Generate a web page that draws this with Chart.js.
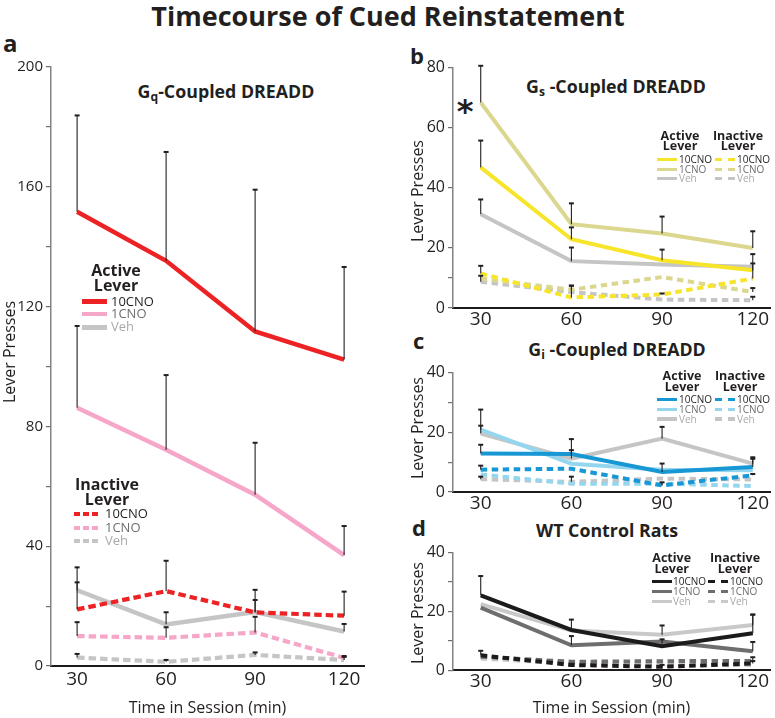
<!DOCTYPE html>
<html><head><meta charset="utf-8">
<script src="https://cdn.jsdelivr.net/npm/chart.js@4.4.1/dist/chart.umd.min.js"></script>
<style>
html,body{margin:0;padding:0;background:#fff;}
body{width:775px;height:718px;position:relative;overflow:hidden;font-family:'Open Sans',sans-serif;color:#231f20;}
.t{position:absolute;line-height:1;white-space:nowrap;}
.c{text-align:center;width:400px;}
.b{font-weight:700;}
.sw{position:absolute;}
canvas{position:absolute;}
sub{font-size:68%;vertical-align:-0.25em;line-height:0;}
</style></head>
<body>
<div class="t c b" style="left:-12px;top:2px;width:800px;font-size:27px;">Timecourse of Cued Reinstatement</div>
<div class="t b" style="left:3px;top:31px;font-size:24px;">a</div>
<div class="t b" style="left:410px;top:44px;font-size:22px;">b</div>
<div class="t b" style="left:413px;top:329px;font-size:22px;">c</div>
<div class="t b" style="left:412px;top:516px;font-size:22px;">d</div>

<div class="t c b" style="left:26px;top:82.5px;font-size:17.8px;">G<sub>q</sub>-Coupled DREADD</div>
<div class="t c b" style="left:416px;top:77.5px;font-size:17.8px;">G<sub>s</sub> -Coupled DREADD</div>
<div class="t c b" style="left:417px;top:340.5px;font-size:17.8px;">G<sub>i</sub> -Coupled DREADD</div>
<div class="t c b" style="left:407px;top:522px;font-size:17.8px;">WT Control Rats</div>

<div class="t" id="asterisk" style="left:445px;top:95px;width:40px;text-align:center;font-family:'DejaVu Sans';font-weight:700;font-size:32px;">*</div>

<canvas id="chartA" width="380" height="673" style="left:0;top:45px;width:380px;height:673px;"></canvas>
<canvas id="chartB" width="385" height="281" style="left:390px;top:55px;width:385px;height:281px;"></canvas>
<canvas id="chartC" width="385" height="160" style="left:390px;top:360px;width:385px;height:160px;"></canvas>
<canvas id="chartD" width="385" height="178" style="left:390px;top:540px;width:385px;height:178px;"></canvas>

<script>
// ---------- data ----------
const timePoints = [30, 60, 90, 120];
const xTickLabels = ['30', '60', '90', '120'];

// Panel a: Gq-coupled DREADD
const gqActive10CNO = [151.7, 135.3, 111.7, 102.3];
const gqActive10CNOErr = [32.3, 36.5, 47.5, 31.1];
const gqActive1CNO = [86.2, 72.2, 57.2, 37.0];
const gqActive1CNOErr = [27.5, 25.1, 17.5, 9.9];
const gqActiveVeh = [25.3, 13.9, 18.0, 11.5];
const gqActiveVehErr = [7.8, 4.2, 4.2, 2.7];
const gqInactive10CNO = [18.9, 25.0, 17.9, 16.8];
const gqInactive10CNOErr = [9.2, 10.3, 7.7, 8.2];
const gqInactive1CNO = [10.0, 9.4, 11.2, 2.7];
const gqInactive1CNOErr = [4.8, 3.7, 5.4, 0.8];
const gqInactiveVeh = [2.8, 1.4, 3.7, 2.0];
const gqInactiveVehErr = [1.4, 0.8, 1.0, 1.2];

// Panel b: Gs-coupled DREADD
const gsActive10CNO = [46.8, 22.9, 15.9, 12.6];
const gsActive10CNOErr = [9.1, 4.1, 3.7, 5.5];
const gsActive1CNO = [68.4, 27.9, 24.8, 20.0];
const gsActive1CNOErr = [12.4, 7.1, 5.8, 5.7];
const gsActiveVeh = [31.2, 15.6, 14.5, 13.7];
const gsActiveVehErr = [5.1, 4.7, 0, 0];
const gsInactive10CNO = [11.5, 3.5, 4.5, 9.8];
const gsInactive10CNOErr = [2.7, 4.1, 0.5, 5.2];
const gsInactive1CNO = [9.8, 6.1, 10.3, 5.3];
const gsInactive1CNOErr = [0, 1.5, 0, 1.5];
const gsInactiveVeh = [8.7, 5.3, 2.8, 2.6];
const gsInactiveVehErr = [2.2, 0, 0, 1.3];

// Panel c: Gi-coupled DREADD
const giActive10CNO = [12.9, 12.7, 6.7, 8.4];
const giActive10CNOErr = [3.1, 5.2, 3.0, 3.4];
const giActive1CNO = [20.9, 9.5, 7.5, 7.3];
const giActive1CNOErr = [6.9, 0, 0, 0];
const giActiveVeh = [19.6, 11.2, 17.9, 9.5];
const giActiveVehErr = [2.8, 3.0, 4.1, 1.8];
const giInactive10CNO = [7.5, 7.8, 2.2, 5.6];
const giInactive10CNOErr = [1.5, 0, 1.2, 0.6];
const giInactive1CNO = [5.9, 2.8, 2.8, 2.0];
const giInactive1CNOErr = [0, 0, 0, 0];
const giInactiveVeh = [4.3, 3.4, 4.5, 4.2];
const giInactiveVehErr = [1.0, 1.9, 0, 0];

// Panel d: WT control rats
const wtActive10CNO = [25.5, 13.7, 8.2, 12.6];
const wtActive10CNOErr = [6.7, 3.7, 2.5, 6.5];
const wtActive1CNO = [21.3, 8.5, 9.8, 6.5];
const wtActive1CNOErr = [0, 3.3, 0, 3.3];
const wtActiveVeh = [22.5, 13.5, 12.1, 15.4];
const wtActiveVehErr = [0, 0, 3.3, 3.7];
const wtInactive10CNO = [5.1, 1.8, 1.2, 2.3];
const wtInactive10CNOErr = [1.7, 0.6, 0.8, 1.0];
const wtInactive1CNO = [4.6, 2.9, 3.1, 3.2];
const wtInactive1CNOErr = [0, 0, 0, 1.4];
const wtInactiveVeh = [4.0, 2.3, 2.0, 1.8];
const wtInactiveVehErr = [0, 0, 0, 0];

// y tick values
const gqYTicks = [0, 20, 40, 60, 80, 100, 120, 140, 160, 180, 200];
const gsYTicks = [0, 10, 20, 40, 60, 80];
const smallYTicks = [0, 10, 20, 30, 40];

const legendLabels = ['10CNO', '1CNO', 'Veh'];

// ---------- styles ----------
const FONT = "'Open Sans', sans-serif";
const TXT = '#231f20';
const legendTextColors = ['#231f20', '#6d6e71', '#a7a9ac'];
const C = {
  red: '#ed2224', pink: '#f6a6c8', gray: '#c5c5c5',
  yellow: '#f7e52a', khaki: '#dbd78f',
  blue: '#1797d4', lblue: '#95d6ef',
  black: '#1d1a1b', dgray: '#6e6e70', lgray: '#c9c9c9'
};

const errorBars = {
  id: 'errorBars',
  afterDatasetsDraw(chart) {
    const { ctx, scales: { x, y } } = chart;
    ctx.save();
    ctx.strokeStyle = '#231f20';
    chart.data.datasets.forEach(ds => {
      if (!ds.errors) return;
      ds.data.forEach((p, i) => {
        const e = ds.errors[i];
        if (!e) return;
        const px = x.getPixelForValue(p.x);
        const y0 = y.getPixelForValue(p.y);
        const y1 = y.getPixelForValue(p.y + e);
        ctx.lineWidth = 1.1;
        ctx.beginPath(); ctx.moveTo(px, y0); ctx.lineTo(px, y1); ctx.stroke();
        ctx.lineWidth = 2;
        ctx.beginPath(); ctx.moveTo(px - 2.5, y1 + 0.5); ctx.lineTo(px + 2.5, y1 + 0.5); ctx.stroke();
      });
    });
    ctx.restore();
  }
};

function ds(vals, errs, color, dash, width) {
  return {
    data: timePoints.map((t, i) => ({ x: t, y: vals[i] })),
    errors: errs,
    borderColor: color,
    backgroundColor: color,
    borderWidth: width,
    borderDash: dash || [],
    pointRadius: 0,
    tension: 0,
    fill: false,
    borderCapStyle: 'butt'
  };
}

function makeChart(id, o) {
  return new Chart(document.getElementById(id), {
    type: 'line',
    data: { datasets: o.datasets },
    options: {
      responsive: false,
      animation: false,
      devicePixelRatio: 1,
      layout: { padding: o.padding },
      plugins: { legend: { display: false }, tooltip: { enabled: false }, title: { display: false } },
      scales: {
        x: {
          type: 'linear', min: o.xMin, max: o.xMax,
          afterBuildTicks: s => { s.ticks = timePoints.map(v => ({ value: v })); },
          afterFit: s => { s.height = o.xHeight; },
          ticks: {
            callback: v => xTickLabels[timePoints.indexOf(v)],
            font: { family: FONT, size: o.xFont }, color: TXT, padding: o.xPad, maxRotation: 0, autoSkip: false
          },
          grid: { display: false, drawTicks: false },
          border: { color: '#1d1a1b', width: 2 },
          title: o.xTitle ? { display: true, text: 'Time in Session (min)', font: { family: FONT, size: 16 }, color: TXT, padding: { top: 0, bottom: o.xTitlePad } } : { display: false }
        },
        y: {
          type: 'linear', min: 0, max: o.yMax,
          afterBuildTicks: s => { s.ticks = o.yTicks.map(v => ({ value: v })); },
          afterFit: s => { s.width = o.yWidth; },
          ticks: {
            callback: v => (v % o.yLabelEvery === 0 ? String(v) : ''),
            font: { family: FONT, size: o.yFont }, color: TXT, padding: 3, autoSkip: false
          },
          grid: { drawOnChartArea: false, drawTicks: true, tickLength: 5, color: '#6d6e71', lineWidth: 1.2 },
          border: { color: '#808285', width: 1.5 }
        }
      }
    },
    plugins: [errorBars]
  });
}

// ---------- charts ----------
const dA = [7.5, 4];
makeChart('chartA', {
  padding: { top: 22, right: 16, left: 0, bottom: 0 },
  xMin: 21.2, xMax: 126.7, xHeight: 52, xFont: 19, xPad: 2, xTitle: true, xTitlePad: 0,
  yMax: 200, yTicks: gqYTicks, yLabelEvery: 40, yWidth: 51, yFont: 15,
  datasets: [
    ds(gqActive10CNO, gqActive10CNOErr, C.red, null, 4.5),
    ds(gqActive1CNO, gqActive1CNOErr, C.pink, null, 4.5),
    ds(gqInactive10CNO, gqInactive10CNOErr, C.red, dA, 4.2),
    ds(gqActiveVeh, gqActiveVehErr, C.gray, null, 4.5),
    ds(gqInactive1CNO, gqInactive1CNOErr, C.pink, dA, 4.2),
    ds(gqInactiveVeh, gqInactiveVehErr, C.gray, dA, 4.2)
  ]
});

const dB = [6.5, 4.5];
makeChart('chartB', {
  padding: { top: 12.7, right: 5, left: 0, bottom: 0 },
  xMin: 20.83, xMax: 125.7, xHeight: 28, xFont: 19, xPad: 0, xTitle: false,
  yMax: 80, yTicks: gsYTicks, yLabelEvery: 20, yWidth: 63, yFont: 16,
  datasets: [
    ds(gsActive10CNO, gsActive10CNOErr, C.yellow, null, 4),
    ds(gsActive1CNO, gsActive1CNOErr, C.khaki, null, 4),
    ds(gsActiveVeh, gsActiveVehErr, C.gray, null, 4),
    ds(gsInactive10CNO, gsInactive10CNOErr, C.yellow, dB, 4),
    ds(gsInactive1CNO, gsInactive1CNOErr, C.khaki, dB, 4),
    ds(gsInactiveVeh, gsInactiveVehErr, C.gray, dB, 4)
  ]
});

makeChart('chartC', {
  padding: { top: 12.7, right: 5, left: 0, bottom: 0 },
  xMin: 20.83, xMax: 125.7, xHeight: 28, xFont: 19, xPad: 0, xTitle: false,
  yMax: 40, yTicks: smallYTicks, yLabelEvery: 20, yWidth: 63, yFont: 16,
  datasets: [
    ds(giActive10CNO, giActive10CNOErr, C.blue, null, 4),
    ds(giActive1CNO, giActive1CNOErr, C.lblue, null, 4),
    ds(giActiveVeh, giActiveVehErr, C.gray, null, 4),
    ds(giInactive10CNO, giInactive10CNOErr, C.blue, dB, 4),
    ds(giInactive1CNO, giInactive1CNOErr, C.lblue, dB, 4),
    ds(giInactiveVeh, giInactiveVehErr, C.gray, dB, 4)
  ]
});

makeChart('chartD', {
  padding: { top: 11, right: 5, left: 0, bottom: 0 },
  xMin: 20.83, xMax: 125.7, xHeight: 47.7, xFont: 19, xPad: 0, xTitle: true, xTitlePad: 0,
  yMax: 40, yTicks: smallYTicks, yLabelEvery: 20, yWidth: 63, yFont: 16,
  datasets: [
    ds(wtActive10CNO, wtActive10CNOErr, C.black, null, 4),
    ds(wtActive1CNO, wtActive1CNOErr, C.dgray, null, 4),
    ds(wtActiveVeh, wtActiveVehErr, C.lgray, null, 4),
    ds(wtInactive10CNO, wtInactive10CNOErr, C.black, dB, 4),
    ds(wtInactive1CNO, wtInactive1CNOErr, C.dgray, dB, 4),
    ds(wtInactiveVeh, wtInactiveVehErr, C.lgray, dB, 4)
  ]
});

// ---------- html text: y titles and legends ----------
function addText(txt, left, top, size, extra) {
  const d = document.createElement('div');
  d.className = 't';
  d.textContent = txt;
  d.style.left = left + 'px';
  d.style.top = top + 'px';
  d.style.fontSize = size + 'px';
  if (extra) Object.assign(d.style, extra);
  document.body.appendChild(d);
  return d;
}
function addCentered(txt, cx, baseline, size, bold) {
  return addText(txt, cx - 100, baseline - 0.888 * size, size,
    { width: '200px', textAlign: 'center', fontWeight: bold ? '700' : '400' });
}
function addYTitle(cx, cy) {
  addText('Lever Presses', cx - 100, cy - 8, 16,
    { width: '200px', textAlign: 'center', transform: 'rotate(-90deg)', transformOrigin: '50% 50%' });
}
function addSwatch(x0, len, y, thick, color, dashed, dash, gap) {
  const d = document.createElement('div');
  d.className = 'sw';
  d.style.left = x0 + 'px';
  d.style.top = (y - thick / 2) + 'px';
  d.style.width = len + 'px';
  d.style.height = thick + 'px';
  d.style.background = dashed
    ? `repeating-linear-gradient(to right, ${color} 0 ${dash}px, transparent ${dash}px ${dash + gap}px)`
    : color;
  document.body.appendChild(d);
}
function addLegend(o) {
  addCentered(o.head[0], o.cx, o.hb[0], o.hSize, true);
  addCentered('Lever', o.cx, o.hb[1], o.hSize, true);
  o.ys.forEach((y, i) => {
    addSwatch(o.sx, o.sLen, y, o.thick, o.colors[i], o.dashed, o.dash, o.gap);
    addText(legendLabels[i], o.tx, y - 0.531 * o.tSize, o.tSize, { color: legendTextColors[i] });
  });
}

addYTitle(9, 352);
addYTitle(416.7, 190.5);
addYTitle(416.7, 428);
addYTitle(416.7, 613);

// panel a legends
addLegend({ head: ['Active'], cx: 116, hb: [276.7, 291.7], hSize: 16, ys: [301.7, 314, 327.3],
  sx: 82, sLen: 25, thick: 4.5, colors: [C.red, C.pink, C.gray], dashed: false, tx: 111, tSize: 13 });
addLegend({ head: ['Inactive'], cx: 107, hb: [490.7, 505], hSize: 16, ys: [514.3, 527.7, 541],
  sx: 74, sLen: 24, thick: 4.2, colors: [C.red, C.pink, C.gray], dashed: true, dash: 6, gap: 3, tx: 105, tSize: 13 });

// panel b legends
addLegend({ head: ['Active'], cx: 680, hb: [141, 151.5], hSize: 12.5, ys: [159.3, 169.3, 178.6],
  sx: 656.7, sLen: 20, thick: 3.6, colors: [C.yellow, C.khaki, C.gray], dashed: false, tx: 679, tSize: 10 });
addLegend({ head: ['Inactive'], cx: 738, hb: [141, 151.5], hSize: 12.5, ys: [159.3, 169.3, 178.6],
  sx: 715, sLen: 20, thick: 3.6, colors: [C.yellow, C.khaki, C.gray], dashed: true, dash: 7, gap: 6, tx: 737, tSize: 10 });

// panel c legends
addLegend({ head: ['Active'], cx: 682, hb: [380.7, 391.7], hSize: 12.5, ys: [399.3, 409.3, 419],
  sx: 656.7, sLen: 20, thick: 3.6, colors: [C.blue, C.lblue, C.gray], dashed: false, tx: 679, tSize: 10 });
addLegend({ head: ['Inactive'], cx: 740, hb: [380.7, 391.7], hSize: 12.5, ys: [399.3, 409.3, 419],
  sx: 715, sLen: 20, thick: 3.6, colors: [C.blue, C.lblue, C.gray], dashed: true, dash: 7, gap: 6, tx: 737, tSize: 10 });

// panel d legends
addLegend({ head: ['Active'], cx: 671.7, hb: [563.3, 574], hSize: 12.5, ys: [581.7, 591.7, 601.7],
  sx: 651.7, sLen: 20, thick: 3.6, colors: [C.black, C.dgray, C.lgray], dashed: false, tx: 673, tSize: 10 });
addLegend({ head: ['Inactive'], cx: 735, hb: [563.3, 574], hSize: 12.5, ys: [581.7, 591.7, 601.7],
  sx: 708.3, sLen: 20, thick: 3.6, colors: [C.black, C.dgray, C.lgray], dashed: true, dash: 7, gap: 6, tx: 730, tSize: 10 });
</script>
</body></html>
